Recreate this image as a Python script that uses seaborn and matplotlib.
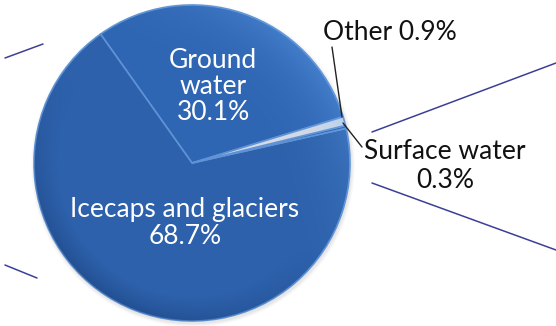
import matplotlib
matplotlib.use('Agg')
import matplotlib.pyplot as plt
import seaborn as sns
import numpy as np
from matplotlib.patches import Circle

sns.set_theme(style='white')
plt.rcParams['font.family'] = ['Lato', 'DejaVu Sans']

categories = ['Ground water', 'Icecaps and glaciers', 'Surface water', 'Other']
shares = [30.1, 68.7, 0.3, 0.9]
label_texts = ['Ground\nwater\n30.1%', 'Icecaps and glaciers\n68.7%',
               'Surface water\n0.3%', 'Other 0.9%']

W, H = 556, 326
fig = plt.figure(figsize=(W / 100, H / 100), dpi=100)
ax = fig.add_axes([0, 0, 1, 1])

cx, cy, r = 192, H - 163, 158

# soft shadow
for i, a in enumerate([0.05, 0.04, 0.03, 0.02]):
    ax.add_patch(Circle((cx + 1, cy - 2), r + 1 + i, color='#505050', alpha=a, lw=0, zorder=0))

colors = ['#2f66b3', '#2d61ab', '#2a5aa0', '#d6dbe4']
wedges, _ = ax.pie(shares, colors=colors, startangle=17, counterclock=True,
                   center=(cx, cy), radius=r,
                   wedgeprops=dict(edgecolor='#5f93d6', linewidth=1.2))
for w in wedges:
    w.set_zorder(2)

# sheen / shading overlay
n = 400
xs = np.linspace(cx - r, cx + r, n)
ys = np.linspace(cy - r, cy + r, n)
X, Y = np.meshgrid(xs, ys)
dx, dy = (X - cx) / r, (Y - cy) / r
rad = np.sqrt(dx ** 2 + dy ** 2)
rgba = np.zeros((n, n, 4))
light = np.clip((dx * 0.6 + dy * 0.5), 0, 1) ** 2 * np.clip(rad, 0, 1) ** 3
dark = np.clip(rad - 0.85, 0, 1) / 0.15 * np.clip(-(dx * 0.5 + dy * 0.7), 0, 1)
rgba[..., 0] = np.where(light > dark, 0.45, 0.05)
rgba[..., 1] = np.where(light > dark, 0.7, 0.15)
rgba[..., 2] = np.where(light > dark, 1.0, 0.35)
rgba[..., 3] = np.maximum(light * 0.5, dark * 0.35)
im = ax.imshow(rgba, extent=(cx - r, cx + r, cy - r, cy + r), origin='lower', zorder=3,
               interpolation='bilinear')
clip = Circle((cx, cy), r, transform=ax.transData)
im.set_clip_path(clip)

# connector lines (bar-of-pie style)
lc = '#3c3f98'
for (x0, y0), (x1, y1) in [((5, 58), (43, 44)), ((5, 265), (37, 278)),
                           ((372, 132), (556, 63)), ((372, 183), (556, 250))]:
    ax.plot([x0, x1], [H - y0, H - y1], color=lc, lw=1.1, zorder=1)

# leader lines
ax.plot([332, 342], [H - 47, H - 117], color='#222222', lw=1.0, zorder=4)
ax.plot([343, 362], [H - 123, H - 147], color='#222222', lw=1.0, zorder=4)

fs = 19
ax.text(213, H - 86, label_texts[0], color='white', fontsize=fs, ha='center', va='center',
        linespacing=1.05, zorder=5)
ax.text(185, H - 223, label_texts[1], color='white', fontsize=fs, ha='center', va='center',
        linespacing=1.05, zorder=5)
ax.text(445, H - 166, label_texts[2], color='#111111', fontsize=fs, ha='center', va='center',
        linespacing=1.2, zorder=5)
ax.text(390, H - 33, label_texts[3], color='#111111', fontsize=fs, ha='center', va='center',
        zorder=5)

ax.set_xlim(0, W)
ax.set_ylim(0, H)
ax.set_aspect('auto')
ax.axis('off')
fig.savefig('out.png', dpi=100, facecolor='white')
